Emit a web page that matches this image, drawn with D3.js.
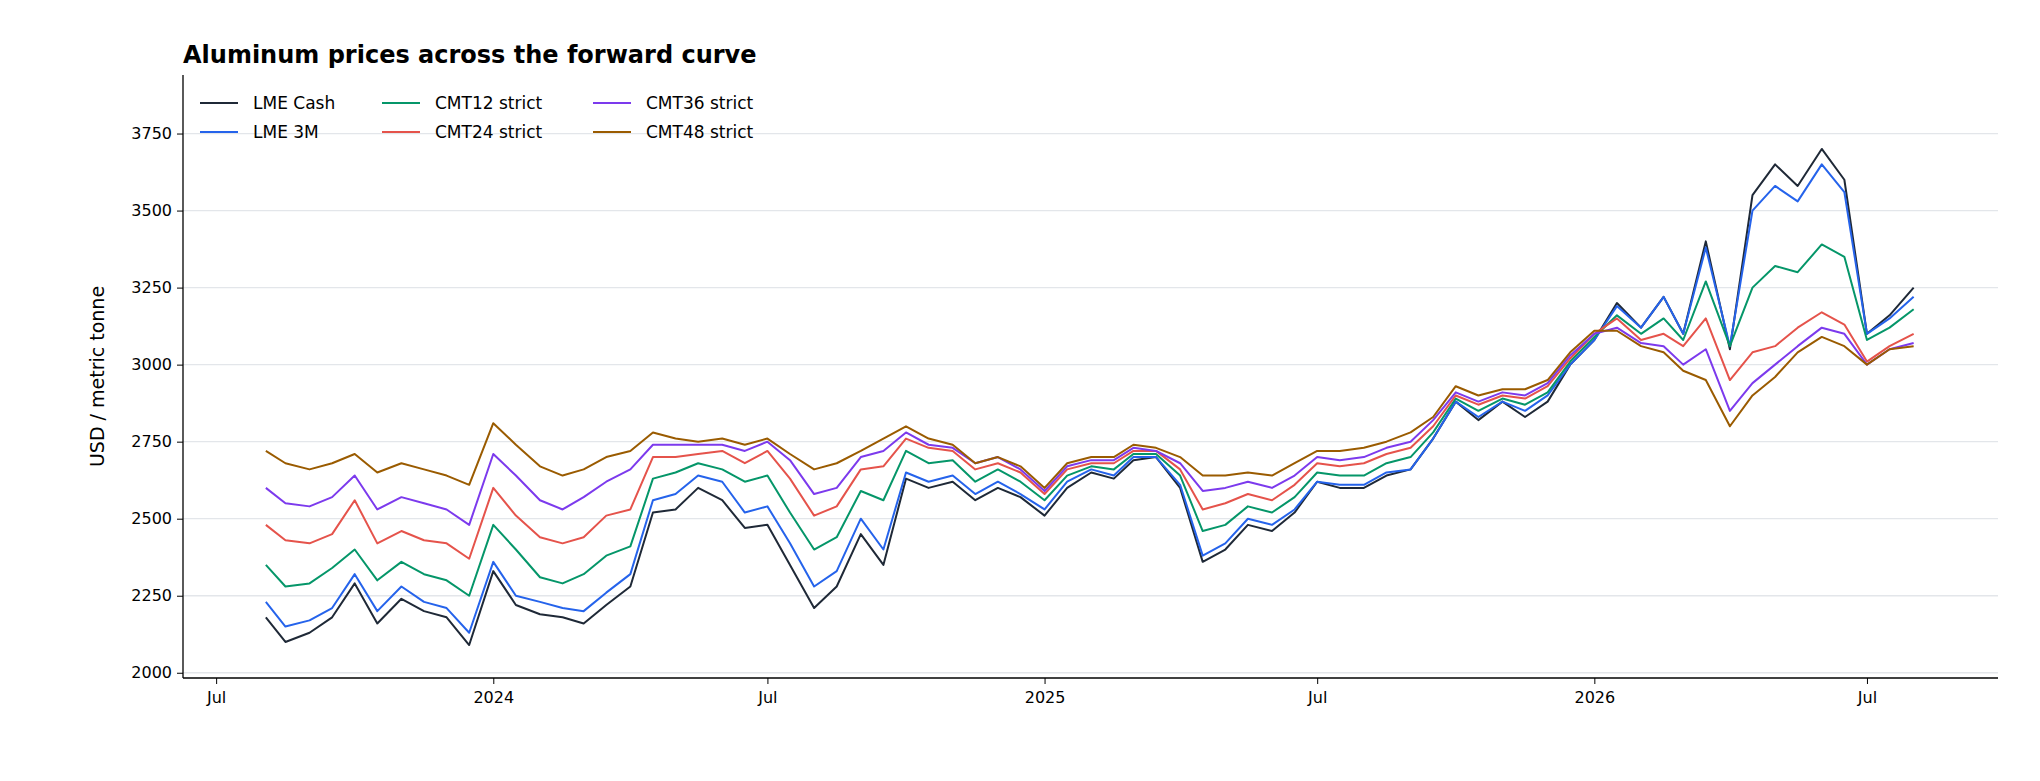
<!DOCTYPE html>
<html><head><meta charset="utf-8">
<script src="https://cdn.jsdelivr.net/npm/d3@7"></script>
<style>body{margin:0;background:#fff;font-family:"DejaVu Sans",sans-serif}</style>
</head><body><svg id="c" width="2040" height="781"></svg>
<script>
const dates=["2023-08-03","2023-08-16","2023-09-01","2023-09-16","2023-10-01","2023-10-16","2023-11-01","2023-11-16","2023-12-01","2023-12-16","2024-01-01","2024-01-16","2024-02-01","2024-02-16","2024-03-01","2024-03-16","2024-04-01","2024-04-16","2024-05-01","2024-05-16","2024-06-01","2024-06-16","2024-07-01","2024-07-16","2024-08-01","2024-08-16","2024-09-01","2024-09-16","2024-10-01","2024-10-16","2024-11-01","2024-11-16","2024-12-01","2024-12-16","2025-01-01","2025-01-16","2025-02-01","2025-02-16","2025-03-01","2025-03-16","2025-04-01","2025-04-16","2025-05-01","2025-05-16","2025-06-01","2025-06-16","2025-07-01","2025-07-16","2025-08-01","2025-08-16","2025-09-01","2025-09-16","2025-10-01","2025-10-16","2025-11-01","2025-11-16","2025-12-01","2025-12-16","2026-01-01","2026-01-16","2026-02-01","2026-02-16","2026-03-01","2026-03-16","2026-04-01","2026-04-16","2026-05-01","2026-05-16","2026-06-01","2026-06-16","2026-07-01","2026-07-16","2026-08-01"];
const lmeCash=[2180,2100,2130,2180,2290,2160,2240,2200,2180,2090,2330,2220,2190,2180,2160,2220,2280,2520,2530,2600,2560,2470,2480,2350,2210,2280,2450,2350,2630,2600,2620,2560,2600,2570,2510,2600,2650,2630,2690,2700,2600,2360,2400,2480,2460,2520,2620,2600,2600,2640,2660,2760,2880,2820,2880,2830,2880,3000,3080,3200,3120,3220,3100,3400,3050,3550,3650,3580,3700,3600,3100,3160,3250];
const lme3M=[2230,2150,2170,2210,2320,2200,2280,2230,2210,2130,2360,2250,2230,2210,2200,2260,2320,2560,2580,2640,2620,2520,2540,2420,2280,2330,2500,2400,2650,2620,2640,2580,2620,2580,2530,2620,2660,2640,2700,2700,2610,2380,2420,2500,2480,2530,2620,2610,2610,2650,2660,2760,2880,2830,2880,2850,2900,3000,3080,3190,3120,3220,3100,3380,3060,3500,3580,3530,3650,3560,3100,3150,3220];
const cmt12=[2350,2280,2290,2340,2400,2300,2360,2320,2300,2250,2480,2400,2310,2290,2320,2380,2410,2630,2650,2680,2660,2620,2640,2520,2400,2440,2590,2560,2720,2680,2690,2620,2660,2620,2560,2640,2670,2660,2710,2710,2640,2460,2480,2540,2520,2570,2650,2640,2640,2680,2700,2780,2890,2850,2890,2870,2910,3010,3090,3160,3100,3150,3080,3270,3060,3250,3320,3300,3390,3350,3080,3120,3180];
const cmt24=[2480,2430,2420,2450,2560,2420,2460,2430,2420,2370,2600,2510,2440,2420,2440,2510,2530,2700,2700,2710,2720,2680,2720,2630,2510,2540,2660,2670,2760,2730,2720,2660,2680,2650,2580,2660,2680,2680,2720,2720,2660,2530,2550,2580,2560,2610,2680,2670,2680,2710,2730,2800,2900,2870,2900,2890,2930,3020,3100,3150,3080,3100,3060,3150,2950,3040,3060,3120,3170,3130,3010,3060,3100];
const cmt36=[2600,2550,2540,2570,2640,2530,2570,2550,2530,2480,2710,2640,2560,2530,2570,2620,2660,2740,2740,2740,2740,2720,2750,2690,2580,2600,2700,2720,2780,2740,2730,2680,2700,2660,2590,2670,2690,2690,2730,2720,2680,2590,2600,2620,2600,2640,2700,2690,2700,2730,2750,2820,2910,2880,2910,2900,2940,3030,3100,3120,3070,3060,3000,3050,2850,2940,3000,3060,3120,3100,3000,3050,3070];
const cmt48=[2720,2680,2660,2680,2710,2650,2680,2660,2640,2610,2810,2740,2670,2640,2660,2700,2720,2780,2760,2750,2760,2740,2760,2710,2660,2680,2720,2760,2800,2760,2740,2680,2700,2670,2600,2680,2700,2700,2740,2730,2700,2640,2640,2650,2640,2680,2720,2720,2730,2750,2780,2830,2930,2900,2920,2920,2950,3040,3110,3110,3060,3040,2980,2950,2800,2900,2960,3040,3090,3060,3000,3050,3060];
const seriesNames=["LME Cash","LME 3M","CMT12 strict","CMT24 strict","CMT36 strict","CMT48 strict"];
const seriesVals=[lmeCash,lme3M,cmt12,cmt24,cmt36,cmt48];
const colors=["#1f2937","#2563eb","#059669","#e5534b","#7c3aed","#9a5b00"];
const yTicks=[2000,2250,2500,2750,3000,3250,3500,3750];
const xTickDates=["2023-07-01","2024-01-01","2024-07-01","2025-01-01","2025-07-01","2026-01-01","2026-07-01"];
const xTickLabels=["Jul","2024","Jul","2025","Jul","2026","Jul"];

const svg=d3.select("#c");
const m={l:183,r:42,t:75,b:103};
const W=2040,H=781;
const parse=d3.timeParse("%Y-%m-%d");
const x=d3.scaleTime().domain([parse("2023-06-09"),parse("2026-09-26")]).range([m.l,W-m.r]);
const y=d3.scaleLinear().domain([1983,3940]).range([H-m.b,m.t]);
const g=svg.append("g");
g.selectAll("line.grid").data(yTicks).join("line").attr("x1",m.l).attr("x2",W-m.r)
 .attr("y1",d=>y(d)).attr("y2",d=>y(d)).attr("stroke","#e3e6ea").attr("stroke-width",1.3);
const line=d3.line().x((d,i)=>x(parse(dates[i]))).y(d=>y(d));
seriesVals.forEach((s,k)=>{
 g.append("path").datum(s).attr("d",line).attr("fill","none").attr("stroke",colors[k]).attr("stroke-width",2).attr("stroke-linejoin","round");
});
const ya=svg.append("g").attr("transform",`translate(${m.l},0)`).call(d3.axisLeft(y).tickValues(yTicks).tickFormat(d3.format("d")).tickSize(6).tickPadding(5));
const xa=svg.append("g").attr("transform",`translate(0,${H-m.b})`).call(d3.axisBottom(x).tickValues(xTickDates.map(parse)).tickFormat((d,i)=>xTickLabels[i]).tickSize(6).tickPadding(8));
[ya,xa].forEach(a=>{a.selectAll("text").attr("font-size",16).attr("font-family","DejaVu Sans").attr("fill","#000");a.select(".domain").attr("stroke","#000").attr("stroke-width",1.3);a.selectAll(".tick line").attr("stroke","#000");});
ya.select(".domain").attr("d",`M0,${y(3940)}V${H-m.b}`);
xa.select(".domain").attr("d",`M${m.l},0H${W-m.r}`);
svg.append("text").attr("x",m.l).attr("y",63).attr("font-size",24).attr("font-weight","bold").text("Aluminum prices across the forward curve");
svg.append("text").attr("transform",`translate(104,${(m.t+H-m.b)/2}) rotate(-90)`).attr("text-anchor","middle").attr("font-size",19).text("USD / metric tonne");
const lx=[200,382,593],ly=[103,132];
seriesNames.forEach((n,k)=>{
 const col=Math.floor(k/2),row=k%2;
 const gg=svg.append("g").attr("transform",`translate(${lx[col]},${ly[row]})`);
 gg.append("line").attr("x1",0).attr("x2",38).attr("stroke",colors[k]).attr("stroke-width",2);
 gg.append("text").attr("x",53).attr("y",6).attr("font-size",17).text(n);
});
</script></body></html>
